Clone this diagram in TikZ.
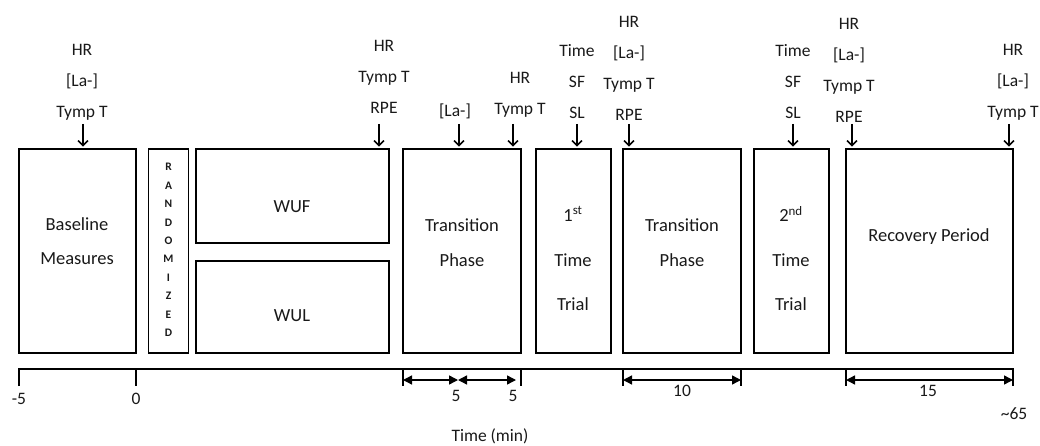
\documentclass[tikz,border=0pt]{standalone}
\usepackage{fontspec}
\setmainfont{Carlito}
\usetikzlibrary{arrows.meta}
\newcommand{\lac}{{[}La-{]}}
\begin{document}
\begin{tikzpicture}[x=1pt,y=-1pt,
 box/.style={draw, line width=1.6pt, inner sep=0pt},
 lbl/.style={align=center, font=\fontsize{17.5}{31}\selectfont, inner sep=0pt, text=black!90},
 txt/.style={font=\fontsize{18.5}{20}\selectfont, inner sep=0pt, text=black!90},
 num/.style={font=\fontsize{17.5}{20}\selectfont, inner sep=0pt, text=black!90},
 rnd/.style={align=center, font=\bfseries\fontsize{11.5}{18.4}\selectfont, inner sep=0pt, text=black!90},
 meas/.style={-{Straight Barb[length=5pt,width=10pt,line width=1.6pt]}, line width=1.6pt, shorten >=1.5pt},
 dimarrow/.style={{Triangle[length=9pt,width=9pt]}-{Triangle[length=9pt,width=9pt]}, line width=1.4pt},
 axis/.style={line width=1.6pt}]
\useasboundingbox (0,0) rectangle (1040,446);

% boxes
\node[box, minimum width=117, minimum height=204] (base) at (77.5,251) {};
\node[box, minimum width=40,  minimum height=204] (rand) at (168.5,251) {};
\node[box, minimum width=193, minimum height=94]  (wuf)  at (292.5,196) {};
\node[box, minimum width=193, minimum height=92]  (wul)  at (292.5,307) {};
\node[box, minimum width=118, minimum height=204] (tr1)  at (462,251) {};
\node[box, minimum width=75,  minimum height=204] (tt1)  at (573.5,251) {};
\node[box, minimum width=118, minimum height=204] (tr2)  at (682,251) {};
\node[box, minimum width=75,  minimum height=204] (tt2)  at (791.5,251) {};
\node[box, minimum width=167, minimum height=204] (rec)  at (929.5,251) {};

% box texts
\node[txt] (b1) at (77,224) {Baseline};
\node[txt] (b2) at (77,259) {Measures};
\node[rnd] (r1) at (168.5,250) {R\\A\\N\\D\\O\\M\\I\\Z\\E\\D};
\node[txt] (w1) at (292,207) {WUF};
\node[txt] (w2) at (292,316) {WUL};
\node[txt] (t1a) at (462,225) {Transition};
\node[txt] (t1b) at (462,260) {Phase};
\node[txt] (q1a) at (573,214) {1\textsuperscript{st}};
\node[txt] (q1b) at (573,260) {Time};
\node[txt] (q1c) at (573,304) {Trial};
\node[txt] (t2a) at (682,225) {Transition};
\node[txt] (t2b) at (682,260) {Phase};
\node[txt] (q2a) at (791,214) {2\textsuperscript{nd}};
\node[txt] (q2b) at (791,260) {Time};
\node[txt] (q2c) at (791,304) {Trial};
\node[txt] (rc) at (929,237) {Recovery Period};

% measurement labels
\node[lbl] (L1) at (82,82) {HR\\\lac\\Tymp T};
\node[lbl] (L2) at (384,77) {HR\\Tymp T\\RPE};
\node[lbl] (L3) at (455,111) {\lac};
\node[lbl] (L4) at (520,94.5) {HR\\Tymp T};
\node[lbl] (L5) at (577,82) {Time\\SF\\SL};
\node[lbl] (L6) at (629,68) {HR\\\lac\\Tymp T\\RPE};
\node[lbl] (L7) at (793,82) {Time\\SF\\SL};
\node[lbl] (L8) at (849,70.5) {HR\\\lac\\Tymp T\\RPE};
\node[lbl] (L9) at (1013,82) {HR\\\lac\\Tymp T};

% arrow start coordinates
\coordinate (a1) at (83,124);
\coordinate (a2) at (379,124);
\coordinate (a3) at (459,124);
\coordinate (a4) at (513,124);
\coordinate (a5) at (577,124);
\coordinate (a6) at (629,124);
\coordinate (a7) at (793,124);
\coordinate (a8) at (852,124);
\coordinate (a9) at (1009,124);
\draw[meas] (a1) -- (a1 |- base.north);
\draw[meas] (a2) -- (a2 |- wuf.north);
\draw[meas] (a3) -- (a3 |- tr1.north);
\draw[meas] (a4) -- (a4 |- tr1.north);
\draw[meas] (a5) -- (a5 |- tt1.north);
\draw[meas] (a6) -- (a6 |- tr2.north);
\draw[meas] (a7) -- (a7 |- tt2.north);
\draw[meas] (a8) -- (a8 |- rec.north);
\draw[meas] (a9) -- (a9 |- rec.north);

% timeline
\coordinate (x0) at (19,369);
\coordinate (x1) at (136,369);
\coordinate (x2) at (403,369);
\coordinate (x3) at (521,369);
\coordinate (x4) at (623,369);
\coordinate (x5) at (741,369);
\coordinate (x6) at (846,369);
\coordinate (x7) at (1013,369);
\draw[axis] ([yshift=-17pt]x0) -- (x0) -- (x7) -- ([yshift=-17pt]x7);
\foreach \c in {x1,x2,x3,x4,x5,x6} \draw[axis] (\c) -- ([yshift=-17pt]\c);

\coordinate (d1) at (403,380);
\coordinate (d2) at (458,380);
\coordinate (d3) at (516,380);
\coordinate (d4) at (623,380);
\coordinate (d5) at (741,380);
\coordinate (d6) at (846,380);
\coordinate (d7) at (1013,380);
\draw[dimarrow] (d1) -- (d2);
\draw[dimarrow] (d2) -- (d3);
\draw[dimarrow] (d4) -- (d5);
\draw[dimarrow] (d6) -- (d7);

% axis labels
\node[num] (n1) at (19,399) {-5};
\node[num] (n2) at (136,399) {0};
\node[num] (n3) at (456,396) {5};
\node[num] (n4) at (513,396) {5};
\node[num] (n5) at (682,391) {10};
\node[num] (n6) at (928,391) {15};
\node[num] (n7) at (1014,414) {\textasciitilde65};
\node[num] (n8) at (490,436) {Time (min)};
\end{tikzpicture}
\end{document}
